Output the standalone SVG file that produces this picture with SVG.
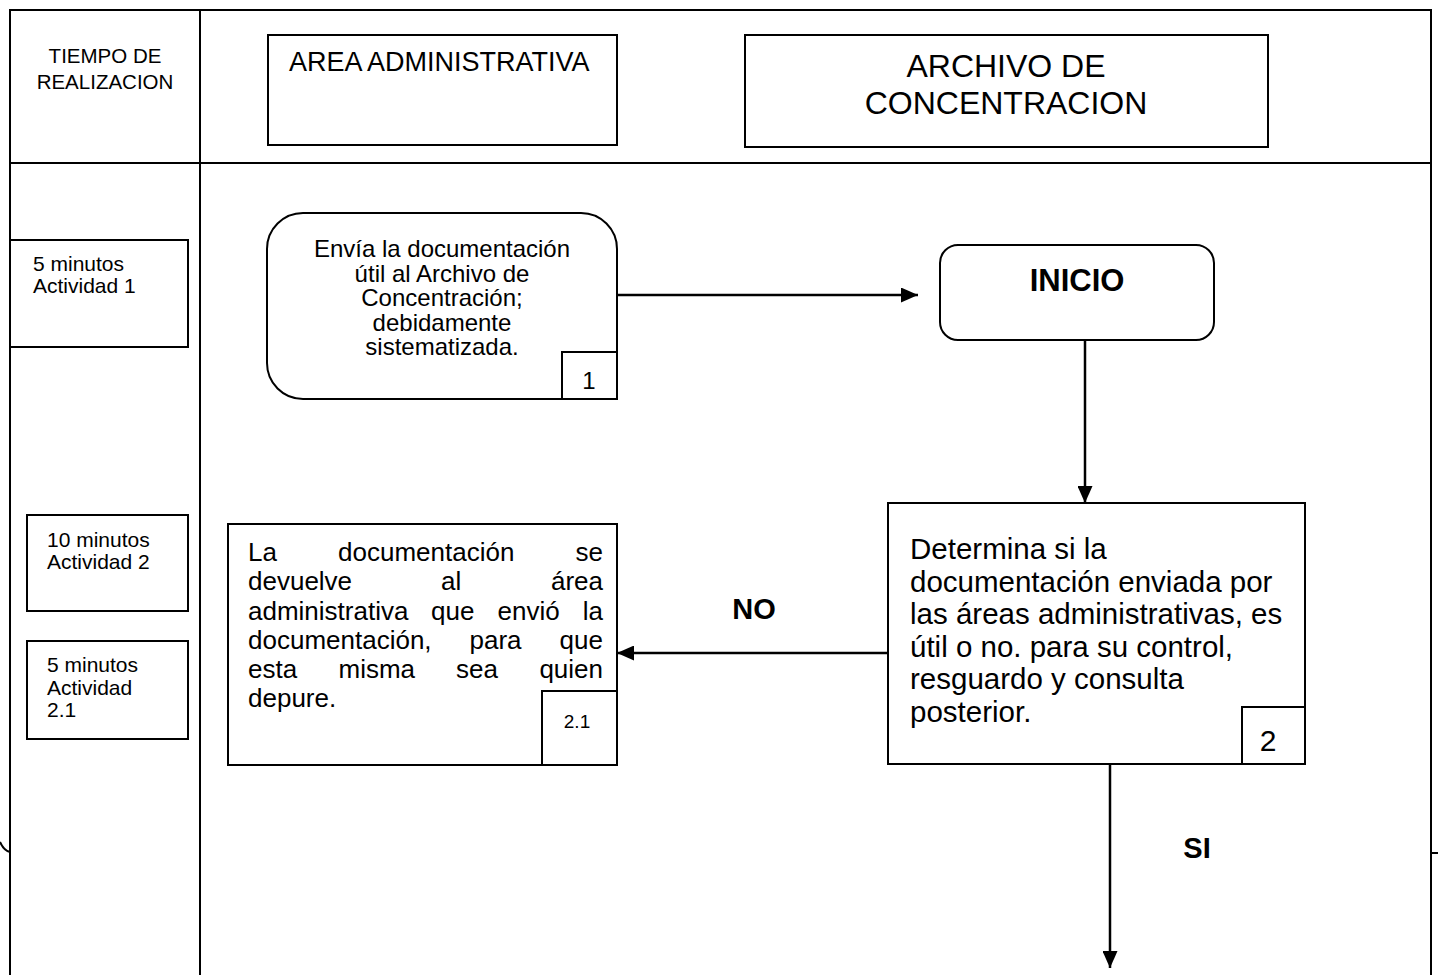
<svg xmlns="http://www.w3.org/2000/svg" width="1438" height="975" viewBox="0 0 1438 975">
<defs>
<style>
.ln{fill:none;stroke:#000;stroke-width:2}
.bx{fill:#fff;stroke:#000;stroke-width:2}
.t{font-family:"Liberation Sans",Arial,sans-serif;fill:#000}
.b{font-weight:bold}
.con{fill:none;stroke:#000;stroke-width:2.5}
</style>
<marker id="ah" markerUnits="userSpaceOnUse" markerWidth="17" markerHeight="15" viewBox="0 0 17 15" refX="17" refY="7.5" orient="auto">
<path d="M0,0 L17,7.5 L0,15 z" fill="#000"/>
</marker>
</defs>
<rect width="1438" height="975" fill="#fff"/>
<g id="frame">
<path class="ln" d="M10,975 V10 H1431 V975"/>
<path class="ln" d="M10,163 H1431"/>
<path class="ln" d="M200,10 V975"/>
<path class="ln" d="M0,842 Q4,851 10,852"/>
<path class="ln" d="M1431,853 H1438"/>
</g>
<g id="header-tiempo">
<text class="t" font-size="20.5" text-anchor="middle" x="105" y="63">TIEMPO DE</text>
<text class="t" font-size="20.5" text-anchor="middle" x="105" y="89">REALIZACION</text>
</g>
<g id="header-area">
<rect class="bx" x="268" y="35" width="349" height="110"/>
<text class="t" font-size="27" x="289" y="71">AREA ADMINISTRATIVA</text>
</g>
<g id="header-archivo">
<rect class="bx" x="745" y="35" width="523" height="112"/>
<text class="t" font-size="32" text-anchor="middle" x="1006" y="77">ARCHIVO DE</text>
<text class="t" font-size="32" text-anchor="middle" x="1006" y="114">CONCENTRACION</text>
</g>
<g id="time1">
<rect class="bx" x="10" y="240" width="178" height="107"/>
<text class="t" font-size="21" x="33" y="271">5 minutos</text>
<text class="t" font-size="21" x="33" y="293">Actividad 1</text>
</g>
<g id="time2">
<rect class="bx" x="27" y="515" width="161" height="96"/>
<text class="t" font-size="21" x="47" y="547">10 minutos</text>
<text class="t" font-size="21" x="47" y="569">Actividad 2</text>
</g>
<g id="time3">
<rect class="bx" x="27" y="641" width="161" height="98"/>
<text class="t" font-size="21" x="47" y="672">5 minutos</text>
<text class="t" font-size="21" x="47" y="695">Actividad</text>
<text class="t" font-size="21" x="47" y="717">2.1</text>
</g>
<g id="connectors">
<path class="con" d="M617,295 H918" marker-end="url(#ah)"/>
<path class="con" d="M1085,340 V503" marker-end="url(#ah)"/>
<path class="con" d="M888,653 H617" marker-end="url(#ah)"/>
<path class="con" d="M1110,764 V968" marker-end="url(#ah)"/>
<text class="t b" font-size="29" text-anchor="middle" x="754" y="619">NO</text>
<text class="t b" font-size="29" text-anchor="middle" x="1197" y="858">SI</text>
</g>
<g id="node1">
<rect class="bx" x="267" y="213" width="350" height="186" rx="36" ry="36"/>
<text class="t" font-size="24" text-anchor="middle" x="442" y="257">Envía la documentación</text>
<text class="t" font-size="24" text-anchor="middle" x="442" y="281.5">útil al Archivo de</text>
<text class="t" font-size="24" text-anchor="middle" x="442" y="306">Concentración;</text>
<text class="t" font-size="24" text-anchor="middle" x="442" y="330.5">debidamente</text>
<text class="t" font-size="24" text-anchor="middle" x="442" y="355">sistematizada.</text>
<rect class="bx" x="562" y="352" width="55" height="47"/>
<text class="t" font-size="24" text-anchor="middle" x="589" y="389">1</text>
</g>
<g id="inicio">
<rect class="bx" x="940" y="245" width="274" height="95" rx="18" ry="18"/>
<text class="t b" font-size="31" text-anchor="middle" x="1077" y="291">INICIO</text>
</g>
<g id="node2">
<rect class="bx" x="888" y="503" width="417" height="261"/>
<text class="t" font-size="29.5" x="910" y="559">Determina si la</text>
<text class="t" font-size="29.5" x="910" y="591.5">documentación enviada por</text>
<text class="t" font-size="29.5" x="910" y="624">las áreas administrativas, es</text>
<text class="t" font-size="29.5" x="910" y="656.5">útil o no. para su control,</text>
<text class="t" font-size="29.5" x="910" y="689">resguardo y consulta</text>
<text class="t" font-size="29.5" x="910" y="721.5">posterior.</text>
<rect class="bx" x="1242" y="707" width="63" height="57"/>
<text class="t" font-size="30" text-anchor="middle" x="1268" y="751">2</text>
</g>
<g id="node21">
<rect class="bx" x="228" y="524" width="389" height="241"/>
<g class="t" font-size="26">
<text x="248" y="561">La</text>
<text x="338" y="561">documentación</text>
<text x="603" y="561" text-anchor="end">se</text>
<text x="248" y="590">devuelve</text>
<text x="441" y="590">al</text>
<text x="603" y="590" text-anchor="end">área</text>
<text x="248" y="619.5">administrativa</text>
<text x="431" y="619.5">que</text>
<text x="497.5" y="619.5">envió</text>
<text x="603" y="619.5" text-anchor="end">la</text>
<text x="248" y="649">documentación,</text>
<text x="469.5" y="649">para</text>
<text x="603" y="649" text-anchor="end">que</text>
<text x="248" y="678">esta</text>
<text x="338.5" y="678">misma</text>
<text x="456" y="678">sea</text>
<text x="603" y="678" text-anchor="end">quien</text>
<text x="248" y="707">depure.</text>
</g>
<rect class="bx" x="542" y="691" width="75" height="74"/>
<text class="t" font-size="19" text-anchor="middle" x="577" y="728">2.1</text>
</g>
</svg>
